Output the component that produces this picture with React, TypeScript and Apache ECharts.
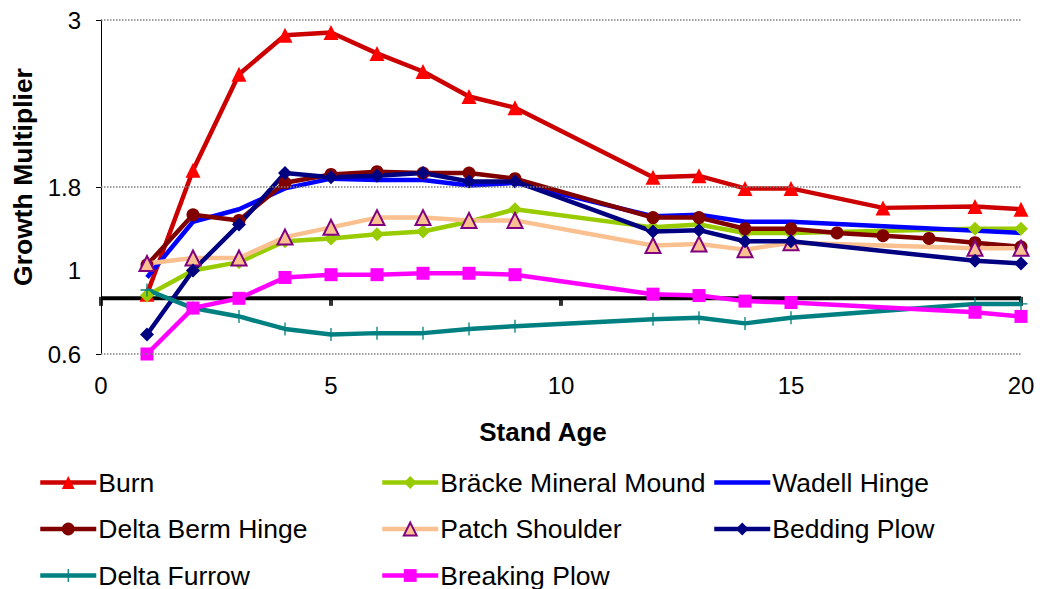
import React, { useEffect, useRef } from "react";
import * as echarts from "echarts";

// Growth multiplier by stand age for each site-preparation treatment
const burnAge = [1, 2, 3, 4, 5, 6, 7, 8, 9, 12, 13, 14, 15, 17, 19, 20];
const burn = [1.03, 1.92, 2.61, 2.89, 2.91, 2.76, 2.63, 2.45, 2.37, 1.87, 1.88, 1.79, 1.79, 1.65, 1.66, 1.64];

const brackeAge = [1, 2, 3, 4, 5, 6, 7, 8, 9, 12, 13, 14, 15, 19, 20];
const bracke = [1.02, 1.2, 1.26, 1.41, 1.43, 1.46, 1.48, 1.55, 1.64, 1.51, 1.53, 1.47, 1.47, 1.5, 1.5];

const wadellAge = [1, 2, 3, 4, 5, 6, 7, 8, 9, 12, 13, 14, 15, 20];
const wadell = [1.15, 1.55, 1.64, 1.79, 1.86, 1.85, 1.85, 1.81, 1.83, 1.59, 1.6, 1.55, 1.55, 1.47];

const deltaBermAge = [1, 2, 3, 4, 5, 6, 7, 8, 9, 12, 13, 14, 15, 16, 17, 18, 19, 20];
const deltaBerm = [1.24, 1.6, 1.56, 1.83, 1.89, 1.91, 1.9, 1.9, 1.86, 1.58, 1.58, 1.5, 1.5, 1.47, 1.45, 1.43, 1.4, 1.37];

const patchAge = [1, 2, 3, 4, 5, 6, 7, 8, 9, 12, 13, 14, 15, 19, 20];
const patch = [1.25, 1.29, 1.29, 1.44, 1.51, 1.58, 1.58, 1.56, 1.56, 1.38, 1.39, 1.35, 1.4, 1.36, 1.36];

const beddingAge = [1, 2, 3, 4, 5, 6, 7, 8, 9, 12, 13, 14, 15, 19, 20];
const bedding = [0.74, 1.2, 1.53, 1.9, 1.87, 1.88, 1.9, 1.84, 1.84, 1.48, 1.49, 1.41, 1.41, 1.27, 1.25];

const furrowAge = [1, 2, 3, 4, 5, 6, 7, 8, 9, 12, 13, 14, 15, 19, 20];
const furrow = [1.06, 0.93, 0.87, 0.78, 0.74, 0.75, 0.75, 0.78, 0.8, 0.85, 0.86, 0.82, 0.86, 0.96, 0.96];

const breakingAge = [1, 2, 3, 4, 5, 6, 7, 8, 9, 12, 13, 14, 15, 19, 20];
const breaking = [0.6, 0.93, 1.0, 1.15, 1.17, 1.17, 1.18, 1.18, 1.17, 1.03, 1.02, 0.98, 0.97, 0.9, 0.87];

// Axis setup
const xTicks = [0, 5, 10, 15, 20];
const yGridValues = [0.6, 1.8, 3];
const yLabelText: Record<string, string> = { "0.6": "0.6", "1.2": "1", "1.8": "1.8", "3": "3" };
const baseline = 1;

const FONT = "'Liberation Sans', Arial, sans-serif";

const pair = (xs: number[], ys: number[]) => xs.map((x, i) => [x, ys[i]]);

const plusSymbol = "path://M-0.7,-7H0.7V-0.7H7V0.7H0.7V7H-0.7V0.7H-7V-0.7H-0.7Z";

export default function App() {
  const ref = useRef<HTMLDivElement>(null);

  useEffect(() => {
    if (!ref.current) return;
    const chart = echarts.init(ref.current, undefined, { renderer: "svg" });

    const lineSeries = (
      name: string,
      xs: number[],
      ys: number[],
      lineColor: string,
      symbol: string,
      symbolSize: number,
      itemStyle: any
    ) => ({
      name,
      type: "line",
      data: pair(xs, ys),
      symbol,
      symbolSize,
      showSymbol: symbol !== "none",
      lineStyle: { color: lineColor, width: 4.5 },
      itemStyle,
      z: 3,
    });

    const legendCommon = {
      orient: "vertical",
      padding: 0,
      itemWidth: 56,
      itemHeight: 16,
      itemGap: 19.5,
      lineStyle: { width: 4.5 },
      textStyle: { fontFamily: FONT, fontSize: 26.5, color: "#000", lineHeight: 26, padding: [0, 0, 0, -3] },
      selectedMode: false,
      top: 469,
    };

    chart.setOption({
      animation: false,
      backgroundColor: "#fff",
      grid: { left: 101, right: 21, top: 20, bottom: 235, containLabel: false },
      xAxis: {
        type: "value",
        min: 0,
        max: 20,
        interval: 5,
        name: "Stand Age",
        nameLocation: "middle",
        nameGap: 65,
        nameTextStyle: {
          fontFamily: FONT,
          fontSize: 26,
          fontWeight: "bold",
          color: "#000",
          padding: [0, 36, 0, 0],
        },
        axisLine: { show: false },
        axisTick: { show: false },
        splitLine: { show: false },
        axisLabel: { fontFamily: FONT, fontSize: 24, color: "#000", margin: 19 },
      },
      yAxis: {
        type: "value",
        min: 0.6,
        max: 3,
        interval: 0.6,
        name: "Growth Multiplier",
        nameLocation: "middle",
        nameGap: 64,
        nameTextStyle: {
          fontFamily: FONT,
          fontSize: 26.5,
          fontWeight: "bold",
          color: "#000",
          padding: [0, 0, 0, 20],
        },
        axisLine: { show: true, lineStyle: { color: "#000", width: 1 } },
        axisTick: { show: true, length: 5, customValues: yGridValues, lineStyle: { color: "#000" } },
        splitLine: { show: false },
        axisLabel: {
          fontFamily: FONT,
          fontSize: 24,
          color: "#000",
          margin: 20,
          formatter: (v: number) => yLabelText[String(Math.round(v * 10) / 10)] ?? "",
        },
      },
      legend: [
        { ...legendCommon, left: 38, data: ["Burn", "Delta Berm Hinge", "Delta Furrow"] },
        { ...legendCommon, left: 380, data: ["Bräcke Mineral Mound", "Patch Shoulder", "Breaking Plow"] },
        {
          ...legendCommon,
          left: 712,
          data: [{ name: "Wadell Hinge", itemStyle: { opacity: 0 } }, "Bedding Plow"],
        },
      ],
      series: [
        {
          name: "gridlines",
          type: "line",
          data: [],
          silent: true,
          z: 0,
          markLine: {
            silent: true,
            symbol: "none",
            label: { show: false },
            lineStyle: { color: "#808080", type: "dotted", width: 1.5 },
            data: yGridValues.map((v) => ({ yAxis: v })),
          },
        },
        {
          name: "baseline",
          type: "line",
          data: [
            [xTicks[0], baseline],
            [xTicks[xTicks.length - 1], baseline],
          ],
          symbol: "none",
          silent: true,
          lineStyle: { color: "#000", width: 4 },
          z: 1,
        },
        {
          name: "baselineTicks",
          type: "scatter",
          data: xTicks.map((x) => [x, baseline]),
          symbol: "rect",
          symbolSize: [4, 9],
          symbolOffset: [0, 3],
          itemStyle: { color: "#000" },
          silent: true,
          clip: false,
          z: 1,
        },
        lineSeries("Burn", burnAge, burn, "#CC0000", "triangle", 15, { color: "#FF0000" }),
        lineSeries("Bräcke Mineral Mound", brackeAge, bracke, "#99CC00", "diamond", 14, { color: "#99CC00" }),
        lineSeries("Wadell Hinge", wadellAge, wadell, "#0000FF", "none", 0, { color: "#0000FF" }),
        lineSeries("Delta Berm Hinge", deltaBermAge, deltaBerm, "#800000", "circle", 13, { color: "#800000" }),
        lineSeries("Patch Shoulder", patchAge, patch, "#FAC090", "triangle", 15, {
          color: "#FAC090",
          borderColor: "#800080",
          borderWidth: 2,
        }),
        lineSeries("Bedding Plow", beddingAge, bedding, "#000080", "diamond", 14, { color: "#000080" }),
        lineSeries("Delta Furrow", furrowAge, furrow, "#008080", plusSymbol, 13, { color: "#008080" }),
        lineSeries("Breaking Plow", breakingAge, breaking, "#FF00FF", "rect", 13, { color: "#FF00FF" }),
      ],
    });

    return () => chart.dispose();
  }, []);

  return <div ref={ref} style={{ width: 1042, height: 589, position: "absolute", left: 0, top: 0 }} />;
}
